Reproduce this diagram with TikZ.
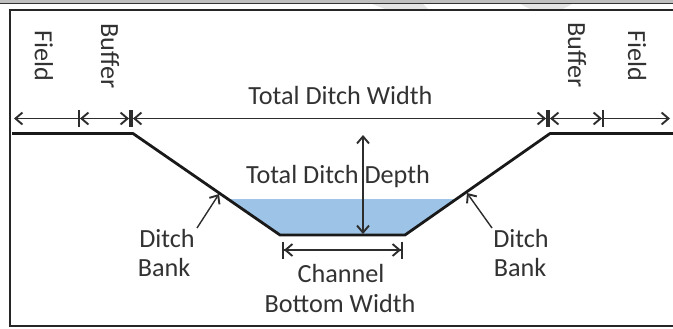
\documentclass[tikz,border=0pt]{standalone}
\usepackage{fontspec}
\setmainfont{Carlito}
\usetikzlibrary{arrows.meta}
\definecolor{txt}{RGB}{50,50,50}
\definecolor{dimc}{RGB}{45,45,45}
\definecolor{water}{RGB}{157,195,230}
\begin{document}
\begin{tikzpicture}[x=1bp,y=-1bp,
  lbl/.style={font=\fontsize{26.3}{28}\selectfont, text=txt, inner sep=0pt},
  vlbl/.style={lbl, rotate=-90},
  dimline/.style={draw=dimc, line width=1.4bp},
  ground/.style={draw=black!90, line width=2.8bp, line join=round},
  dimtip/.tip={Straight Barb[length=7bp,width=12bp,line width=1.9bp]},
  dimbar/.tip={Bar[width=17bp,line width=2bp]},
]
\useasboundingbox (0,0) rectangle (673,328);
% top strip and frame
\fill[black!25] (0,0) rectangle (673,3);
\draw[black!80, line width=0.8bp] (0,3.4) -- (673,3.4);
\fill[black!10] (372,4) -- (423,4) -- (428,9) -- (385,9) -- cycle;
\fill[black!10] (520,4) -- (572,4) -- (563,9) -- (530,9) -- cycle;
\draw[black!85, line width=2bp] (673,10) -- (10,10) -- (10,326) -- (673,326);

% water
\fill[water] (227.6,199) -- (456.7,199) -- (405,235) -- (280,235) -- cycle;

% ground profile
\coordinate (gL) at (12,133.5);
\coordinate (t1) at (133,133.5);
\coordinate (c1) at (280,235);
\coordinate (c2) at (405,235);
\coordinate (t2) at (550,133.5);
\coordinate (gR) at (673,133.5);
\draw[ground] (gL) -- (t1) -- (c1) -- (c2) -- (t2) -- (gR);

% top dimension line
\coordinate (fL) at (14,118.5);
\coordinate (b1) at (78,118.5);
\coordinate (b2) at (131,118.5);
\coordinate (b3) at (548,118.5);
\coordinate (b4) at (604,118.5);
\coordinate (fR) at (670,118.5);
\draw[dimline, -{dimtip}] (b1) -- (fL);
\draw[dimline, {dimbar[]dimtip[]}-{dimtip[]dimbar[]}] (b1) -- (b2);
\draw[dimline, {dimbar[]dimtip[]}-{dimtip[]dimbar[]}] (b2) -- (b3);
\draw[dimline, {dimbar[]dimtip[]}-{dimtip[]dimbar[]}] (b3) -- (b4);
\draw[dimline, -{dimtip}] (b4) -- (fR);

% labels
\node[vlbl] (field1) at (44,56) {Field};
\node[vlbl] (buf1) at (110,56) {Buffer};
\node[vlbl] (buf2) at (577,55) {Buffer};
\node[vlbl] (field2) at (637,56) {Field};
\node[lbl, anchor=base] (tw) at (340.5,104) {Total Ditch Width};
\node[lbl, anchor=base] (td) at (338,183) {Total Ditch Depth};
\node[lbl, anchor=base] (ch) at (341,282) {Channel};
\node[lbl, anchor=base] (bw) at (340,312) {Bottom Width};
\node[lbl, anchor=base] (dl1) at (167,247) {Ditch};
\node[lbl, anchor=base] (bl1) at (164,276) {Bank};
\node[lbl, anchor=base] (dl2) at (521,247) {Ditch};
\node[lbl, anchor=base] (bl2) at (520,276) {Bank};

% depth arrow
\coordinate (dTop) at (363,135);
\coordinate (dBot) at (363,234);
\draw[dimline, {dimtip}-{dimtip}] (dTop) -- (dBot);

% channel bottom width
\coordinate (w1) at (282,250);
\coordinate (w2) at (403,250);
\draw[dimline, {dimbar[]dimtip[]}-{dimtip[]dimbar[]}] (w1) -- (w2);

% ditch bank pointers
\coordinate (p1) at (197,228);
\coordinate (q1) at (219,194);
\coordinate (p2) at (492,228);
\coordinate (q2) at (467,193);
\draw[dimline, -{dimtip}] (p1) -- (q1);
\draw[dimline, -{dimtip}] (p2) -- (q2);
\end{tikzpicture}
\end{document}
